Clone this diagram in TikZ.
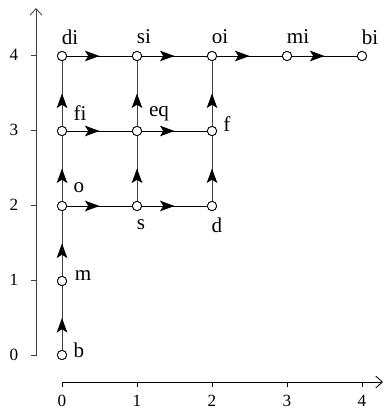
\documentclass[tikz,border=0pt]{standalone}
\usepackage{fontspec}
\setmainfont{Liberation Serif}
\usetikzlibrary{arrows.meta,decorations.markings}
\begin{document}
\begin{tikzpicture}[x=0.0266667cm,y=-0.0266667cm,
  vtx/.style={circle,draw,fill=white,inner sep=0pt,minimum size=7pt,line width=0.6pt},
  lbl/.style={inner sep=0pt,font=\fontsize{16}{18}\selectfont},
  tlbl/.style={inner sep=0pt,font=\fontsize{13}{15}\selectfont},
  edg/.style={line width=0.65pt,postaction={decorate},
    decoration={markings,mark=at position 0.5 with {\arrow{Stealth[length=11pt,width=8pt,inset=2.5pt,color=black]}}}},
  vedg/.style={edg,draw=black!75},
  axis/.style={line width=0.65pt,-{Straight Barb[length=5pt,width=9pt]}},
  tick/.style={line width=0.6pt}]
\useasboundingbox (0,0) rectangle (383,413);
% axes
\coordinate (yb) at (36,356);
\coordinate (yt) at (36,8);
\coordinate (xl) at (62,382);
\coordinate (xr) at (383,382);
\draw[axis,draw=black!75] (yb) -- (yt);
\draw[axis] (xl) -- (xr);
\foreach \j in {0,...,4}{
  \coordinate (ty\j) at (36,355-75*\j);
  \draw[tick,draw=black!75] (ty\j) -- ++(-5,0);
  \node[tlbl] (tyl\j) at (14,355-75*\j) {\j};
  \coordinate (tx\j) at (62+75*\j,382);
  \draw[tick] (tx\j) -- ++(0,5);
  \node[tlbl] (txl\j) at (62+75*\j,401) {\j};
}
% vertices
\node[vtx] (b) at (62,355) {};
\node[vtx] (m) at (62,281) {};
\node[vtx] (o) at (62,206) {};
\node[vtx] (s) at (137,206) {};
\node[vtx] (d) at (212,206) {};
\node[vtx] (fi) at (62,131) {};
\node[vtx] (eq) at (137,131) {};
\node[vtx] (f) at (212,131) {};
\node[vtx] (di) at (62,56) {};
\node[vtx] (si) at (137,56) {};
\node[vtx] (oi) at (212,56) {};
\node[vtx] (mi) at (287,56) {};
\node[vtx] (bi) at (362,56) {};
% edges
\draw[vedg] (b) -- (m);
\draw[vedg] (m) -- (o);
\draw[vedg] (o) -- (fi);
\draw[vedg] (fi) -- (di);
\draw[vedg] (s) -- (eq);
\draw[vedg] (eq) -- (si);
\draw[vedg] (d) -- (f);
\draw[vedg] (f) -- (oi);
\draw[edg] (o) -- (s);
\draw[edg] (s) -- (d);
\draw[edg] (fi) -- (eq);
\draw[edg] (eq) -- (f);
\draw[edg] (di) -- (si);
\draw[edg] (si) -- (oi);
\draw[edg] (oi) -- (mi);
\draw[edg] (mi) -- (bi);
% redraw vertices on top
\foreach \v in {b,m,o,s,d,fi,eq,f,di,si,oi,mi,bi}{
  \node[vtx] at (\v) {};
}
% labels
\node[lbl] (Lb) at (79,350) {b};
\node[lbl] (Lm) at (83,276) {m};
\node[lbl] (Lo) at (79,188) {o};
\node[lbl] (Ls) at (141,225) {s};
\node[lbl] (Ld) at (217,225) {d};
\node[lbl] (Lfi) at (80,113) {fi};
\node[lbl] (Leq) at (159,114) {eq};
\node[lbl] (Lf) at (227,124) {f};
\node[lbl] (Ldi) at (70,37) {di};
\node[lbl] (Lsi) at (144,37) {si};
\node[lbl] (Loi) at (220,37) {oi};
\node[lbl] (Lmi) at (298,37) {mi};
\node[lbl] (Lbi) at (370,37) {bi};
\end{tikzpicture}
\end{document}
